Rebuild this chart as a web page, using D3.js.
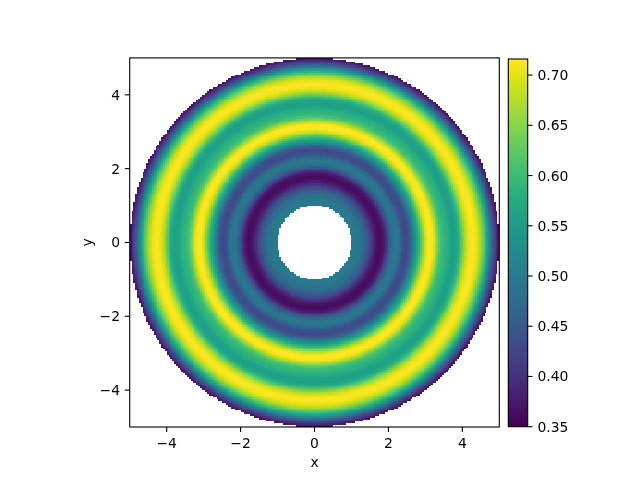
<!DOCTYPE html>
<html>
<head>
<meta charset="utf-8">
<script src="https://cdn.jsdelivr.net/npm/d3@7"></script>
<style>
  body { margin: 0; background: #fff; }
  #wrap { position: relative; width: 640px; height: 480px; }
  #wrap canvas, #wrap svg { position: absolute; left: 0; top: 0; }
  text { font-family: "DejaVu Sans", sans-serif; font-size: 13.9px; fill: #000; }
</style>
</head>
<body>
<div id="wrap"></div>
<script>
// radial profile (radius -> value)
var radii = [1.0, 1.1, 1.2, 1.3, 1.4, 1.5, 1.6, 1.7, 1.8, 1.9,
             2.0, 2.1, 2.2, 2.3, 2.4, 2.5, 2.6, 2.7, 2.8, 2.9,
             3.0, 3.1, 3.2, 3.3, 3.4, 3.5, 3.6, 3.7, 3.8, 3.9,
             4.0, 4.1, 4.2, 4.3, 4.4, 4.5, 4.6, 4.7, 4.8, 4.9, 5.0];
var values = [0.50, 0.50, 0.495, 0.48, 0.46, 0.43, 0.39, 0.365, 0.36, 0.38,
              0.44, 0.48, 0.50, 0.48, 0.44, 0.43, 0.46, 0.52, 0.57, 0.63,
              0.69, 0.72, 0.71, 0.66, 0.61, 0.59, 0.58, 0.56, 0.555, 0.58,
              0.63, 0.68, 0.71, 0.715, 0.70, 0.66, 0.61, 0.55, 0.47, 0.41, 0.36];
var rInner = 1, rOuter = 5;
var axisTicks = [-4, -2, 0, 2, 4];
var cbarTicks = [0.35, 0.40, 0.45, 0.50, 0.55, 0.60, 0.65, 0.70];
var vmin = 0.35, vmax = 0.716;

var W = 640, H = 480;
var plot = {left: 129.7, right: 499.3, top: 57.9, bottom: 427};
var cbar = {left: 508.3, right: 527.7, top: 59, bottom: 426.7};

var x = d3.scaleLinear().domain([-5, 5]).range([plot.left, plot.right]);
var y = d3.scaleLinear().domain([-5, 5]).range([plot.bottom, plot.top]);
var profile = d3.scaleLinear().domain(radii).range(values).clamp(true);
var color = d3.scaleSequential(d3.interpolateViridis).domain([vmin, vmax]);
var cy = d3.scaleLinear().domain([vmin, vmax]).range([cbar.bottom, cbar.top]);

var wrap = d3.select('#wrap');
var canvas = wrap.append('canvas').attr('width', W).attr('height', H);
var ctx = canvas.node().getContext('2d');

// pcolormesh cells
var n = 200, step = 10 / n;
d3.range(n).forEach(function(i) {
    var xa = -5 + i * step;
    d3.range(n).forEach(function(j) {
        var ya = -5 + j * step;
        var r = Math.hypot(xa + step / 2, ya + step / 2);
        if (r < rInner || r > rOuter) return;
        var x0 = Math.round(x(xa)), x1 = Math.round(x(xa + step));
        var y0 = Math.round(y(ya + step)), y1 = Math.round(y(ya));
        ctx.fillStyle = color(profile(r));
        ctx.fillRect(x0, y0, x1 - x0, y1 - y0);
    });
});

// colorbar, one pixel row at a time
d3.range(Math.round(cbar.top), Math.round(cbar.bottom)).forEach(function(row) {
    ctx.fillStyle = color(cy.invert(row + 0.5));
    ctx.fillRect(Math.round(cbar.left), row, Math.round(cbar.right) - Math.round(cbar.left), 1);
});

var svg = wrap.append('svg').attr('width', W).attr('height', H);
var fmt = function(d) { return String(d).replace('-', '\u2212'); };

svg.append('rect')
    .attr('x', plot.left).attr('y', plot.top)
    .attr('width', plot.right - plot.left).attr('height', plot.bottom - plot.top)
    .attr('fill', 'none').attr('stroke', '#000').attr('stroke-width', 1.1);

svg.append('rect')
    .attr('x', cbar.left).attr('y', cbar.top)
    .attr('width', cbar.right - cbar.left).attr('height', cbar.bottom - cbar.top)
    .attr('fill', 'none').attr('stroke', '#000').attr('stroke-width', 1.1);

// x ticks
var xt = svg.append('g');
xt.selectAll('line').data(axisTicks).enter().append('line')
    .attr('x1', function(d) { return x(d); }).attr('x2', function(d) { return x(d); })
    .attr('y1', plot.bottom).attr('y2', plot.bottom + 4.9)
    .attr('stroke', '#000').attr('stroke-width', 1.1);
xt.selectAll('text').data(axisTicks).enter().append('text')
    .attr('x', function(d) { return x(d); }).attr('y', plot.bottom + 21)
    .attr('text-anchor', 'middle').text(fmt);

// y ticks
var yt = svg.append('g');
yt.selectAll('line').data(axisTicks).enter().append('line')
    .attr('y1', function(d) { return y(d); }).attr('y2', function(d) { return y(d); })
    .attr('x1', plot.left).attr('x2', plot.left - 4.9)
    .attr('stroke', '#000').attr('stroke-width', 1.1);
yt.selectAll('text').data(axisTicks).enter().append('text')
    .attr('x', plot.left - 9.7).attr('y', function(d) { return y(d) + 5; })
    .attr('text-anchor', 'end').text(fmt);

// colorbar ticks
var ct = svg.append('g');
ct.selectAll('line').data(cbarTicks).enter().append('line')
    .attr('y1', function(d) { return cy(d); }).attr('y2', function(d) { return cy(d); })
    .attr('x1', cbar.right).attr('x2', cbar.right + 4.9)
    .attr('stroke', '#000').attr('stroke-width', 1.1);
ct.selectAll('text').data(cbarTicks).enter().append('text')
    .attr('x', cbar.right + 9.7).attr('y', function(d) { return cy(d) + 5; })
    .text(function(d) { return d.toFixed(2); });

// axis labels
svg.append('text')
    .attr('x', (plot.left + plot.right) / 2).attr('y', plot.bottom + 40)
    .attr('text-anchor', 'middle').text('x');
svg.append('text')
    .attr('transform', 'translate(' + (plot.left - 38) + ',' + ((plot.top + plot.bottom) / 2) + ') rotate(-90)')
    .attr('text-anchor', 'middle').text('y');
</script>
</body>
</html>
